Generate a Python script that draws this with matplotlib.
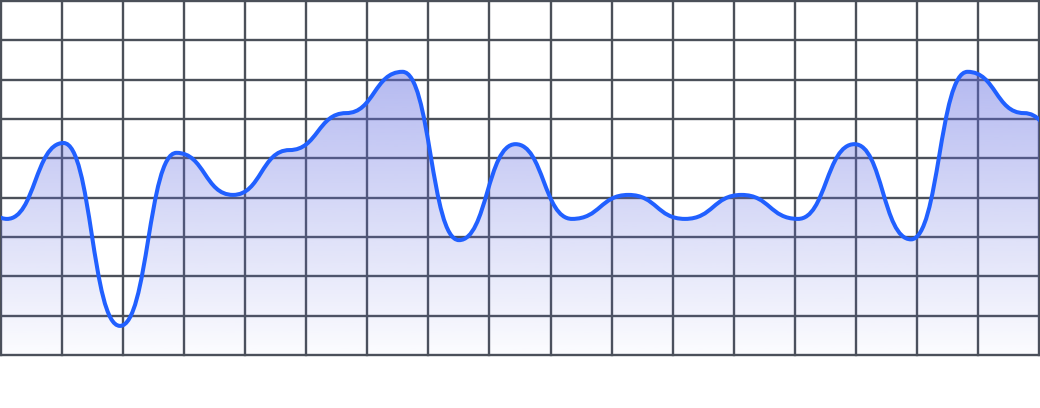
import numpy as np
import matplotlib
matplotlib.use("Agg")
from matplotlib import pyplot as plt
from matplotlib.path import Path
from matplotlib.patches import PathPatch

# values (grid units, 0 = bottom line, 9 = top line)
values = [5.2, 3.46, 5.39, 0.74, 5.14, 4.07, 5.21, 6.15, 7.20, 2.92, 5.36,
          3.46, 4.07, 3.46, 4.07, 3.46, 5.36, 2.94, 7.20, 6.15, 4.8]
xs = np.arange(len(values))

n_cols = 17
n_rows = 9
line_color = "#2160ff"
grid_color = "#4b5059"


def bump_path(x, y, close=False):
    # horizontal-tangent cubic beziers between points (like d3 curveBumpX)
    verts = [(x[0], y[0])]
    codes = [Path.MOVETO]
    for i in range(len(x) - 1):
        xm = (x[i] + x[i + 1]) / 2
        verts += [(xm, y[i]), (xm, y[i + 1]), (x[i + 1], y[i + 1])]
        codes += [Path.CURVE4] * 3
    if close:
        verts += [(x[-1], 0), (x[0], 0), (x[0], y[0])]
        codes += [Path.LINETO, Path.LINETO, Path.CLOSEPOLY]
    return Path(verts, codes)


fig = plt.figure(figsize=(10.4, 4.08), dpi=100)
ax = fig.add_axes([1 / 1040, 53 / 408, 1038 / 1040, 354 / 408])

step = 56.5  # pixels between points
xlo = 1 - 6 / step
xhi = 1 + 1032 / step
ax.set_xlim(xlo, xhi)
ax.set_ylim(0, n_rows)
ax.axis("off")

# grid
for gx in np.linspace(xlo, xhi, n_cols + 1):
    ax.axvline(gx, color=grid_color, lw=1.7, zorder=1, clip_on=False)
for gy in range(n_rows + 1):
    ax.axhline(gy, color=grid_color, lw=1.7, zorder=1, clip_on=False)

# gradient fill under the curve
top = max(values)
grad = np.zeros((256, 1, 4))
base = np.array([100, 110, 225]) / 255
grad[:, 0, :3] = base
grad[:, 0, 3] = np.linspace(0.48, 0.02, 256)
img = ax.imshow(grad, extent=(xs[0], xs[-1], 0, top), origin="upper",
                aspect="auto", zorder=2, interpolation="bilinear")
fill_patch = PathPatch(bump_path(xs, values, close=True), facecolor="none",
                       edgecolor="none")
ax.add_patch(fill_patch)
img.set_clip_path(fill_patch)

# line
ax.add_patch(PathPatch(bump_path(xs, values), facecolor="none",
                       edgecolor=line_color, lw=2.9, zorder=3,
                       capstyle="round", joinstyle="round"))

ax.set_xlim(xlo, xhi)
ax.set_ylim(0, n_rows)

fig.savefig("out.png", dpi=100)
